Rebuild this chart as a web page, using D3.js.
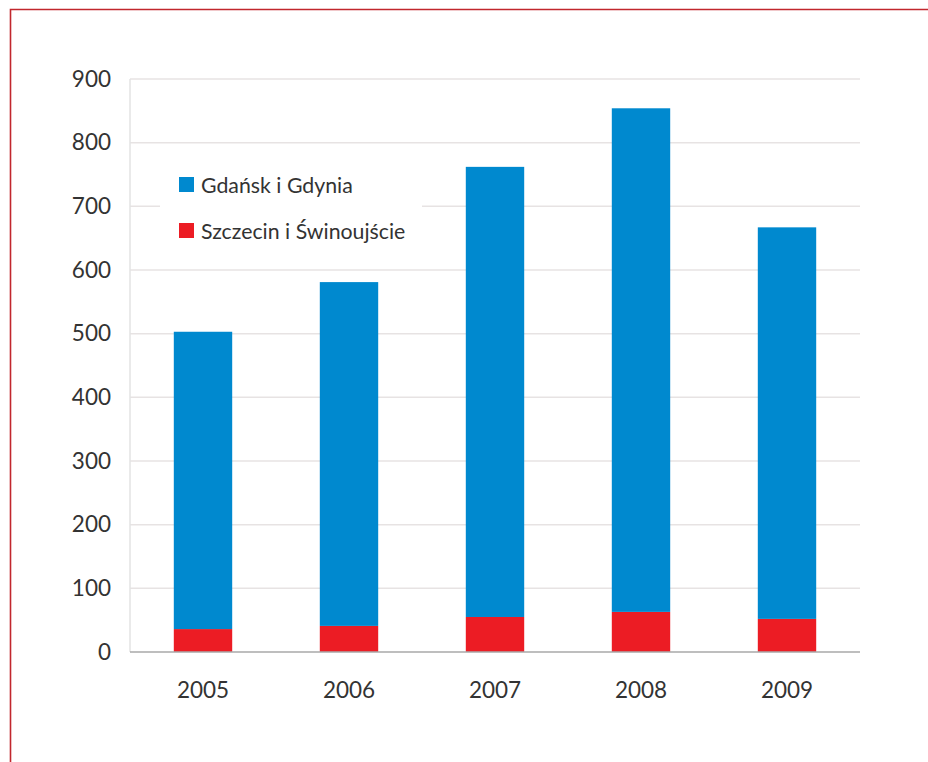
<!DOCTYPE html>
<html lang="pl">
    <head>
        <meta charset="utf-8">
        <title>Przeładunki w portach</title>
        <script type="text/javascript" src="https://d3js.org/d3.v7.min.js"></script>
        <style>
            body { margin: 0; background: #fff; }
            svg { display: block; }
            text { font-family: Lato, "Open Sans", sans-serif; fill: #333; }
        </style>
    </head>

    <body>

        <script type="text/javascript">

            // dane
            var years = ["2005", "2006", "2007", "2008", "2009"];
            var gdanskGdynia = [467, 540, 707, 791, 615];
            var szczecinSwinoujscie = [36, 41, 55, 63, 52];
            var yTicks = [0, 100, 200, 300, 400, 500, 600, 700, 800, 900];
            var seriesNames = ["Gdańsk i Gdynia", "Szczecin i Świnoujście"];
            var colors = ["#0089cf", "#ec1c24"];

            var w = 928;
            var h = 762;
            var margin = {left: 130, right: 68, top: 79, bottom: 110};

            var svg = d3.select("body")
                .append("svg")
                .attr("width", w)
                .attr("height", h);

            // ramka
            svg.append("path")
                .attr("d", "M10.5," + h + "V9.5H" + w)
                .attr("fill", "none")
                .attr("stroke", "#c1272d")
                .attr("stroke-width", 1.6);

            var x = d3.scaleBand()
                .domain(years)
                .range([margin.left, w - margin.right])
                .paddingInner(0.6)
                .paddingOuter(0.3);

            var y = d3.scaleLinear()
                .domain([0, 900])
                .range([h - margin.bottom, margin.top]);

            // siatka
            svg.append("g")
                .selectAll("line")
                .data(yTicks.slice(1))
                .enter()
                .append("line")
                .attr("x1", margin.left)
                .attr("x2", w - margin.right)
                .attr("y1", function(d){ return y(d); })
                .attr("y2", function(d){ return y(d); })
                .attr("stroke", "#e7e3e3")
                .attr("stroke-width", 1.5);

            svg.append("line")
                .attr("x1", margin.left).attr("x2", margin.left)
                .attr("y1", y(900)).attr("y2", y(0))
                .attr("stroke", "#e3e3e3")
                .attr("stroke-width", 1.5);

            // oś Y
            var yAxis = svg.append("g")
                .attr("transform", "translate(" + (margin.left - 19) + ",0)")
                .call(d3.axisLeft(y).tickValues(yTicks).tickSize(0).tickPadding(0));
            yAxis.select(".domain").remove();
            yAxis.selectAll("text")
                .attr("font-size", 22.5)
                .attr("fill", "#333")
                .attr("font-family", "Lato, sans-serif");

            // słupki
            var stackData = years.map(function(d, i){
                return {year: d, a: gdanskGdynia[i], b: szczecinSwinoujscie[i]};
            });
            var series = d3.stack().keys(["b", "a"])(stackData);

            svg.append("g")
                .selectAll("g")
                .data(series)
                .enter()
                .append("g")
                .attr("fill", function(d){ return d.key == "a" ? colors[0] : colors[1]; })
                .selectAll("rect")
                .data(function(d){ return d; })
                .enter()
                .append("rect")
                .attr("x", function(d){ return x(d.data.year); })
                .attr("y", function(d){ return y(d[1]); })
                .attr("width", x.bandwidth())
                .attr("height", function(d){ return y(d[0]) - y(d[1]); });

            // linia bazowa
            svg.append("line")
                .attr("x1", margin.left).attr("x2", w - margin.right)
                .attr("y1", y(0)).attr("y2", y(0))
                .attr("stroke", "#a9a9a9")
                .attr("stroke-width", 1.5);

            // oś X
            var xAxis = svg.append("g")
                .attr("transform", "translate(0," + (y(0) + 30) + ")")
                .call(d3.axisBottom(x).tickSize(0).tickPadding(0));
            xAxis.select(".domain").remove();
            xAxis.selectAll("text")
                .attr("font-size", 22.5)
                .attr("fill", "#333")
                .attr("font-family", "Lato, sans-serif");

            // legenda
            var legend = svg.append("g");
            legend.append("rect")
                .attr("x", 160).attr("y", 150)
                .attr("width", 262).attr("height", 100)
                .attr("fill", "#fff");

            var items = legend.selectAll("g.item")
                .data(seriesNames)
                .enter()
                .append("g")
                .attr("class", "item")
                .attr("transform", function(d, i){ return "translate(179," + (177 + i * 46) + ")"; });
            items.append("rect")
                .attr("width", 15).attr("height", 15)
                .attr("fill", function(d, i){ return colors[i]; });
            items.append("text")
                .attr("x", 22).attr("y", 15.5)
                .attr("font-size", 21.3)
                .text(function(d){ return d; });

        </script>
    </body>
</html>
